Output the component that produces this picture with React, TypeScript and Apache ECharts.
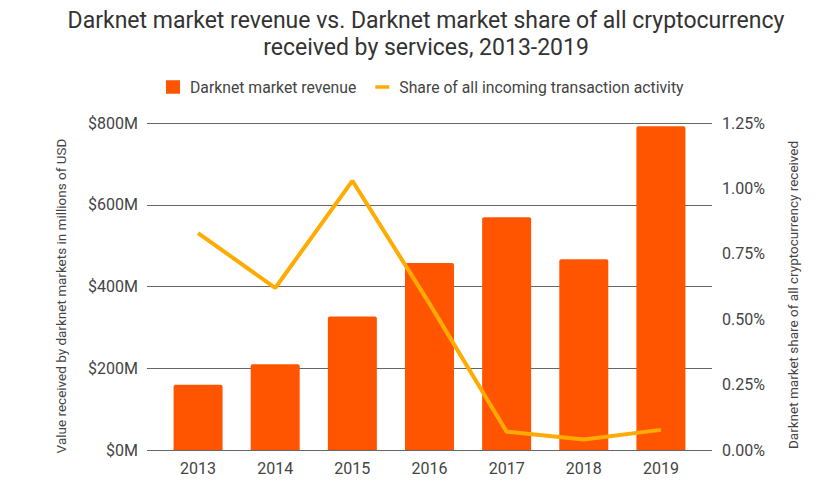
import React, { useEffect, useRef } from "react";
import * as echarts from "echarts";

const years = ["2013", "2014", "2015", "2016", "2017", "2018", "2019"];
const revenue = [160, 210, 327, 458, 570, 467, 793];
const share = [0.83, 0.62, 1.03, 0.56, 0.07, 0.04, 0.077];
const revenueTicks = { min: 0, max: 800, interval: 200 };
const shareTicks = { min: 0, max: 1.25, interval: 0.25 };

const titleText =
  "Darknet market revenue vs. Darknet market share of all cryptocurrency\nreceived by services, 2013-2019";
const seriesNames = ["Darknet market revenue", "Share of all incoming transaction activity"];
const leftAxisName = "Value received by darknet markets in millions of USD";
const rightAxisName = "Darknet market share of all cryptocurrency received";

const FONT = "Roboto";
const TEXT = "#444";
const BAR = "#FF5500";
const LINE = "#FFAB00";

export default function App() {
  const ref = useRef<HTMLDivElement>(null);
  useEffect(() => {
    if (!ref.current) return;
    const chart = echarts.init(ref.current, undefined, { renderer: "svg" });
    chart.setOption({
      animation: false,
      backgroundColor: "#fff",
      textStyle: { fontFamily: FONT },
      title: {
        text: titleText,
        left: 426,
        textAlign: "center",
        top: 7,
        padding: 0,
        textStyle: { fontFamily: FONT, fontSize: 23, fontWeight: "normal", color: "#333", lineHeight: 27 },
      },
      legend: {
        data: [
          { name: seriesNames[0], icon: "rect", itemStyle: { color: BAR } },
          { name: seriesNames[1], icon: "path://M0,0H14V3.5H0Z", itemStyle: { color: LINE } },
        ],
        orient: "horizontal",
        left: 166,
        top: 79,
        padding: 0,
        width: 640,
        itemWidth: 14,
        itemHeight: 13.5,
        itemGap: 19,
        textStyle: { fontFamily: FONT, fontSize: 15.75, color: TEXT, padding: [0, 0, 0, 5] },
      },
      grid: [
        { left: 147, right: 108, top: 123.3, bottom: 36 },
        { left: 159.5, right: 120.5, top: 123.3, bottom: 36 },
      ],
      xAxis: [
        { type: "value", gridIndex: 0, min: 0, max: 1, show: false },
        {
          type: "category",
          gridIndex: 1,
          data: years,
          axisLine: { show: false },
          axisTick: { show: false },
          axisLabel: { fontFamily: FONT, fontSize: 16, color: TEXT, margin: 10 },
        },
      ],
      yAxis: [
        {
          type: "value",
          gridIndex: 0,
          position: "left",
          ...revenueTicks,
          axisLine: { show: false },
          axisTick: { show: false },
          axisLabel: {
            fontFamily: FONT,
            fontSize: 16,
            color: TEXT,
            margin: 9,
            formatter: (v: number) => `$${v}M`,
          },
          splitLine: { show: true, lineStyle: { color: "#666", width: 1 } },
        },
        {
          type: "value",
          gridIndex: 0,
          position: "right",
          ...shareTicks,
          axisLine: { show: false },
          axisTick: { show: false },
          axisLabel: {
            fontFamily: FONT,
            fontSize: 16,
            color: TEXT,
            margin: 10,
            formatter: (v: number) => `${v.toFixed(2)}%`,
          },
          splitLine: { show: false },
        },
        { type: "value", gridIndex: 1, ...revenueTicks, show: false, splitLine: { show: false } },
        { type: "value", gridIndex: 1, ...shareTicks, show: false, splitLine: { show: false } },
      ],
      graphic: [
        {
          type: "text",
          x: 61,
          y: 296,
          rotation: Math.PI / 2,
          style: {
            text: leftAxisName,
            fontFamily: FONT,
            fontSize: 13.5,
            fill: TEXT,
            align: "center",
            verticalAlign: "middle",
          },
        },
        {
          type: "text",
          x: 793,
          y: 295,
          rotation: Math.PI / 2,
          style: {
            text: rightAxisName,
            fontFamily: FONT,
            fontSize: 13.5,
            fill: TEXT,
            align: "center",
            verticalAlign: "middle",
          },
        },
      ],
      series: [
        {
          name: seriesNames[0],
          type: "bar",
          xAxisIndex: 1,
          yAxisIndex: 2,
          data: revenue,
          barWidth: 49,
          itemStyle: { color: BAR, borderRadius: [2, 2, 0, 0] },
        },
        {
          name: seriesNames[1],
          type: "line",
          xAxisIndex: 1,
          yAxisIndex: 3,
          data: share,
          symbol: "none",
          lineStyle: { color: LINE, width: 4 },
          itemStyle: { color: LINE },
        },
      ],
    });
    return () => chart.dispose();
  }, []);
  return (
    <div
      ref={ref}
      style={{ position: "fixed", left: 0, top: 0, width: 820, height: 486 }}
    />
  );
}
